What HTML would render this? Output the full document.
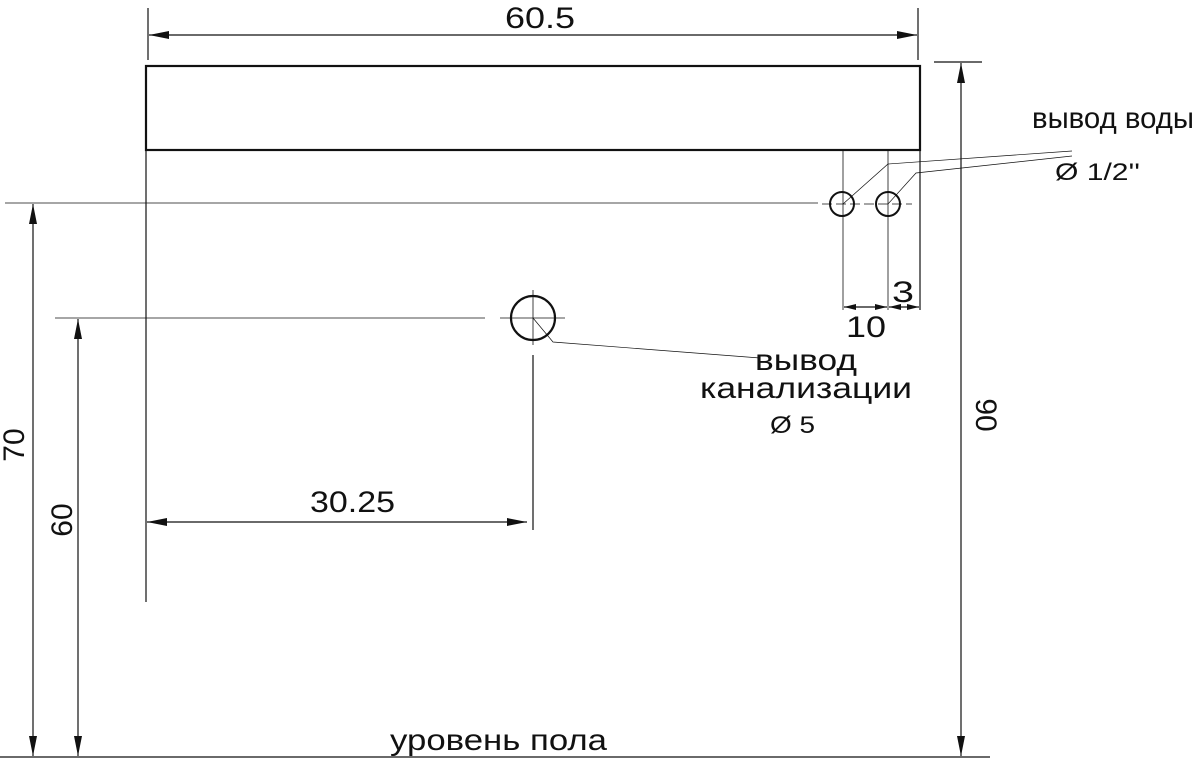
<!DOCTYPE html>
<html><head><meta charset="utf-8"><style>
html,body{margin:0;padding:0;background:#fff;}
svg{display:block;}
text{font-family:"Liberation Sans",sans-serif;fill:#111;}
</style></head><body>
<svg width="1195" height="760" viewBox="0 0 1195 760" xmlns="http://www.w3.org/2000/svg">
<defs>
<marker id="a" viewBox="0 0 20 8" refX="20" refY="4" markerWidth="20" markerHeight="8" markerUnits="userSpaceOnUse" orient="auto-start-reverse"><path d="M0,0 L20,4 L0,8 z" fill="#111"/></marker>
<marker id="s" viewBox="0 0 12 6" refX="12" refY="3" markerWidth="12" markerHeight="6" markerUnits="userSpaceOnUse" orient="auto-start-reverse"><path d="M0,0 L12,3 L0,6 z" fill="#111"/></marker>
</defs>
<g stroke="#111" fill="none" stroke-width="1.2">
<line x1="148" y1="8" x2="148" y2="60"/>
<line x1="918" y1="8" x2="918" y2="60"/>
<line x1="149" y1="35" x2="917" y2="35" marker-start="url(#a)" marker-end="url(#a)"/>
<rect x="146" y="66" width="774" height="84" stroke-width="2.2"/>
<line x1="843" y1="150" x2="843" y2="310" stroke-width="0.8"/>
<line x1="888" y1="150" x2="888" y2="310" stroke-width="0.8"/>
<line x1="920" y1="150" x2="920" y2="310"/>
<line x1="844" y1="307" x2="887" y2="307" marker-start="url(#s)" marker-end="url(#s)"/>
<line x1="889" y1="307" x2="919" y2="307" marker-start="url(#s)" marker-end="url(#s)"/>
<circle cx="842" cy="204" r="12" stroke-width="2"/>
<circle cx="888" cy="204" r="12" stroke-width="2"/>
<line x1="5" y1="203" x2="818" y2="203" stroke-width="0.8"/>
<line x1="822" y1="204" x2="912" y2="204" stroke-width="0.8" stroke-dasharray="10,4"/>
<polyline points="843,204 888,164 1072,151" stroke-width="0.7"/>
<polyline points="888,204 916,173 1072,156" stroke-width="0.7"/>
<circle cx="533" cy="318" r="22" stroke-width="2.2"/>
<line x1="55" y1="318" x2="485" y2="318" stroke-width="0.8"/>
<line x1="500" y1="318" x2="565" y2="318" stroke-width="0.8"/>
<line x1="533" y1="290" x2="533" y2="345" stroke-width="0.8"/>
<line x1="533" y1="355" x2="533" y2="530"/>
<polyline points="533,318 553,342 760,358" stroke-width="0.7"/>
<line x1="146" y1="150" x2="146" y2="602"/>
<line x1="147" y1="522" x2="527" y2="522" marker-start="url(#a)" marker-end="url(#a)"/>
<line x1="33" y1="204" x2="33" y2="756" marker-start="url(#a)" marker-end="url(#a)"/>
<line x1="78" y1="319" x2="78" y2="756" marker-start="url(#a)" marker-end="url(#a)"/>
<line x1="934" y1="62" x2="982" y2="62"/>
<line x1="961" y1="63" x2="961" y2="756" marker-start="url(#a)" marker-end="url(#a)"/>
<line x1="0" y1="757" x2="990" y2="757"/>
</g>
<text x="505" y="28" font-size="30" textLength="70" lengthAdjust="spacingAndGlyphs">60.5</text>
<text x="1032" y="128" font-size="30" textLength="162" lengthAdjust="spacingAndGlyphs">вывод воды</text>
<text x="1055" y="180" font-size="24" textLength="85" lengthAdjust="spacingAndGlyphs">Ø 1/2''</text>
<text x="892" y="302" font-size="30" textLength="22" lengthAdjust="spacingAndGlyphs">3</text>
<text x="846" y="337" font-size="30" textLength="40" lengthAdjust="spacingAndGlyphs">10</text>
<text x="755" y="370" font-size="30" textLength="102" lengthAdjust="spacingAndGlyphs">вывод</text>
<text x="700" y="398" font-size="30" textLength="212" lengthAdjust="spacingAndGlyphs">канализации</text>
<text x="770" y="433" font-size="24" textLength="45" lengthAdjust="spacingAndGlyphs">Ø 5</text>
<text x="310" y="512" font-size="30" textLength="85" lengthAdjust="spacingAndGlyphs">30.25</text>
<text x="390" y="750" font-size="30" textLength="217" lengthAdjust="spacingAndGlyphs">уровень пола</text>
<text transform="translate(24,445) rotate(-90)" font-size="30" text-anchor="middle">70</text>
<text transform="translate(72,520) rotate(-90)" font-size="30" text-anchor="middle">60</text>
<text transform="translate(976,415) rotate(90)" font-size="30" text-anchor="middle">90</text>
</svg>
</body></html>
